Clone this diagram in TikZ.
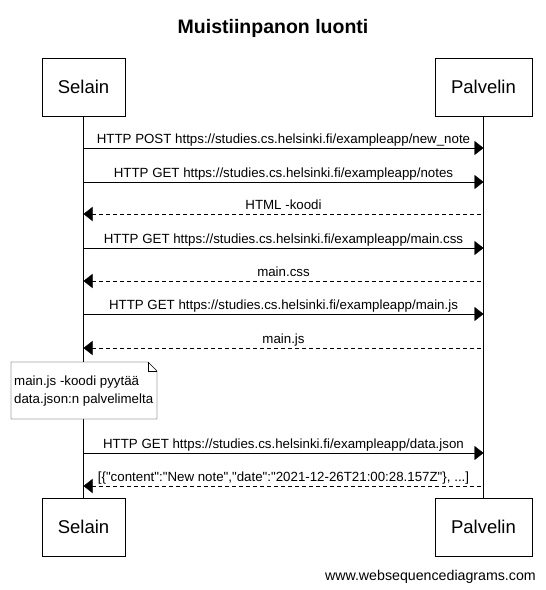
\documentclass[tikz,border=0pt]{standalone}
\usepackage{fontspec}
\setmainfont{Liberation Sans}[Ligatures=TeXOff]
\usetikzlibrary{arrows.meta,calc}

\begin{document}
\begin{tikzpicture}[x=1pt,y=-1pt,
  actor/.style={draw,fill=white,minimum height=58pt,font=\fontsize{18.5}{22}\selectfont},
  call/.style={-{Triangle[length=9pt,width=14pt]}},
  reply/.style={{Triangle[length=9pt,width=14pt]}-,dash pattern=on 4pt off 3pt},
  msglabel/.style={font=\fontsize{13.3}{15}\selectfont,anchor=base}]
\useasboundingbox (0,0) rectangle (546,590);
\node[font=\bfseries\fontsize{19.5}{23}\selectfont,anchor=base] (title) at (273,33) {Muistiinpanon luonti};
% participants
\node[actor,minimum width=83pt] (selain) at (83.5,87) {Selain};
\node[actor,minimum width=97pt] (palvelin) at (483.5,87) {Palvelin};
\node[actor,minimum width=83pt] (selainB) at (83.5,527) {Selain};
\node[actor,minimum width=97pt] (palvelinB) at (483.5,527) {Palvelin};
\draw (selain.south) -- (selainB.north);
\draw (palvelin.south) -- (palvelinB.north);
% messages
\foreach \y/\kind/\lab in {
  148/call/{HTTP POST https://studies.cs.helsinki.fi/exampleapp/new\_note},
  182/call/{HTTP GET https://studies.cs.helsinki.fi/exampleapp/notes},
  214/reply/{HTML -koodi},
  248/call/{HTTP GET https://studies.cs.helsinki.fi/exampleapp/main.css},
  281/reply/{main.css},
  314/call/{HTTP GET https://studies.cs.helsinki.fi/exampleapp/main.js},
  348/reply/{main.js},
  453/call/{HTTP GET https://studies.cs.helsinki.fi/exampleapp/data.json},
  486/reply/{[\{"content":"New note","date":"2021-12-26T21:00:28.157Z"\}, ...]}}
{
  \coordinate (s\y) at (selain.south |- 0,\y);
  \coordinate (p\y) at (palvelin.south |- 0,\y);
  \draw[\kind] (s\y) -- (p\y);
  \node[msglabel] (lab\y) at ($(s\y)!0.5!(p\y)+(0,-5)$) {\lab};
}
% note
\draw[fill=white] (11,362) -- (148,362) -- (157,371) -- (157,419) -- (11,419) -- cycle;
\draw (148,362) -- (148,371) -- (157,371);
\node[anchor=west,align=left,inner sep=0pt,font=\fontsize{13.3}{18.5}\selectfont] (note) at (14,391)
  {main.js -koodi pyytää\\data.json:n palvelimelta};
\node[anchor=base east,inner sep=0pt,font=\fontsize{14.2}{16}\selectfont] (footer) at (536,580) {www.websequencediagrams.com};
\end{tikzpicture}
\end{document}
